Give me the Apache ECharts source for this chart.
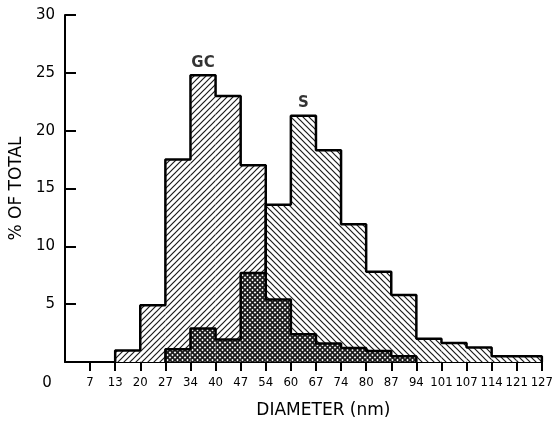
<!DOCTYPE html>
<html>
<head>
<meta charset="utf-8">
<script src="https://cdn.jsdelivr.net/npm/echarts@6/dist/echarts.min.js"></script>
<style>
  html, body { margin: 0; padding: 0; background: #fff; }
  #chart { width: 556px; height: 424px; }
</style>
</head>
<body>
<div id="chart"></div>
<script>
// bin edges in nm (x tick labels), bin i runs from binEdges[i] to binEdges[i + 1]
const binEdges = [0, 7, 13, 20, 27, 34, 40, 47, 54, 60, 67, 74, 80, 87, 94, 101, 107, 114, 121, 127];
// % of total per bin
const gcValues = [0, 0, 1.0, 4.9, 17.5, 24.8, 23.0, 17.0, 5.4, 2.4, 1.6, 1.2, 0.95, 0.5, 0, 0, 0, 0, 0];
const sValues = [0, 0, 0, 0, 1.1, 2.9, 1.95, 7.7, 13.6, 21.3, 18.3, 11.9, 7.8, 5.8, 2.0, 1.65, 1.25, 0.5, 0.5];
const yTickValues = [5, 10, 15, 20, 25, 30];
const xTickValues = binEdges.map((e, i) => i).filter((i) => i > 0);

//斜线填充
const makeHatch = (dirs, bg, size, width) => {
  const c = document.createElement("canvas");
  c.width = c.height = size;
  const ctx = c.getContext("2d");
  if (bg) {
    ctx.fillStyle = bg;
    ctx.fillRect(0, 0, size, size);
  }
  ctx.strokeStyle = "#1a1a1a";
  ctx.lineWidth = width;
  dirs.forEach((d) => {
    ctx.beginPath();
    for (let k = -1; k <= 1; k++) {
      if (d === "/") {
        ctx.moveTo(k * size - 1, size + 1);
        ctx.lineTo(k * size + size + 1, -1);
      } else {
        ctx.moveTo(k * size - 1, -1);
        ctx.lineTo(k * size + size + 1, size + 1);
      }
    }
    ctx.stroke();
  });
  return c;
};

const gcPattern = makeHatch(["/"], "#fff", 6, 1.2);
const sPattern = makeHatch(["\\"], "#fff", 6, 1.2);
const bothPattern = makeHatch(["/", "\\"], "#fff", 5, 1.8);

const overlapValues = gcValues.map((v, i) => Math.min(v, sValues[i]));

const histItem = (pattern) => (params, api) => {
  const i = api.value(0);
  const v = api.value(1);
  if (!v) return;
  const p0 = api.coord([i, v]);
  const p1 = api.coord([i + 1, 0]);
  return {
    type: "rect",
    shape: { x: p0[0], y: p0[1], width: p1[0] - p0[0], height: p1[1] - p0[1] },
    style: { fill: { image: pattern, repeat: "repeat" }, stroke: null },
  };
};

//外轮廓
const outline = (vals) => {
  const first = vals.findIndex((v) => v > 0);
  let last = vals.length - 1;
  while (vals[last] === 0) last--;
  const pts = [[first, 0]];
  for (let i = first; i <= last; i++) pts.push([i, vals[i]]);
  pts.push([last + 1, 0]);
  return pts;
};

const peak = (vals) => vals.indexOf(Math.max(...vals));

const narrowFont = "'DejaVu Sans Condensed', 'Liberation Sans', sans-serif";

const chartInstance = echarts.init(document.getElementById("chart"));
chartInstance.setOption({
  animation: false,
  backgroundColor: "#fff",
  grid: { left: 63, right: 7, top: 15, bottom: 62 },
  xAxis: {
    type: "value",
    min: 0,
    max: binEdges.length - 1,
    interval: 1,
    splitLine: { show: false },
    axisLine: { lineStyle: { color: "#000", width: 2 } },
    axisTick: { customValues: xTickValues, length: 9, lineStyle: { color: "#000", width: 2 } },
    axisLabel: {
      customValues: xTickValues,
      formatter: (v) => binEdges[v],
      color: "#000",
      fontFamily: narrowFont,
      fontSize: 13,
      margin: 14,
    },
    name: "DIAMETER (nm)",
    nameLocation: "middle",
    nameGap: 40,
    nameTextStyle: { color: "#000", fontFamily: "DejaVu Sans", fontSize: 17, padding: [0, 0, 0, 40] },
  },
  yAxis: {
    type: "value",
    min: 0,
    max: 30,
    interval: 5,
    splitLine: { show: false },
    axisLine: { show: true, lineStyle: { color: "#000", width: 2 } },
    axisTick: { show: true, inside: true, length: 11, customValues: yTickValues, lineStyle: { color: "#000", width: 2 } },
    axisLabel: {
      customValues: yTickValues,
      color: "#000",
      fontFamily: "DejaVu Sans",
      fontSize: 15,
      margin: 10,
    },
    name: "% OF TOTAL",
    nameLocation: "middle",
    nameGap: 38,
    nameTextStyle: { color: "#000", fontFamily: "DejaVu Sans", fontSize: 17 },
  },
  graphic: [
    {
      type: "text",
      x: 47,
      y: 383,
      style: { text: "0", textAlign: "center", textVerticalAlign: "middle", fill: "#000", font: "15px 'DejaVu Sans'" },
    },
  ],
  series: [
    {
      name: "GC",
      type: "custom",
      renderItem: histItem(gcPattern),
      data: gcValues.map((v, i) => [i, v]),
      z: 2,
    },
    {
      name: "S",
      type: "custom",
      renderItem: histItem(sPattern),
      data: sValues.map((v, i) => [i, v]),
      z: 2,
    },
    {
      name: "overlap",
      type: "custom",
      renderItem: histItem(bothPattern),
      data: overlapValues.map((v, i) => [i, v]),
      z: 3,
    },
    {
      type: "line",
      step: "end",
      symbol: "none",
      data: outline(gcValues),
      lineStyle: { color: "#000", width: 2.5 },
      z: 4,
    },
    {
      type: "line",
      step: "end",
      symbol: "none",
      data: outline(sValues),
      lineStyle: { color: "#000", width: 2.5 },
      z: 4,
    },
    {
      type: "scatter",
      symbolSize: 0,
      data: [
        { name: "GC", value: [peak(gcValues) + 0.5, gcValues[peak(gcValues)]] },
        { name: "S", value: [peak(sValues) + 0.5, sValues[peak(sValues)]] },
      ],
      label: {
        show: true,
        position: "top",
        distance: 5,
        formatter: "{b}",
        color: "#000",
        fontFamily: "DejaVu Sans",
        fontWeight: "bold",
        fontSize: 15,
      },
      z: 5,
    },
  ],
});
</script>
</body>
</html>
